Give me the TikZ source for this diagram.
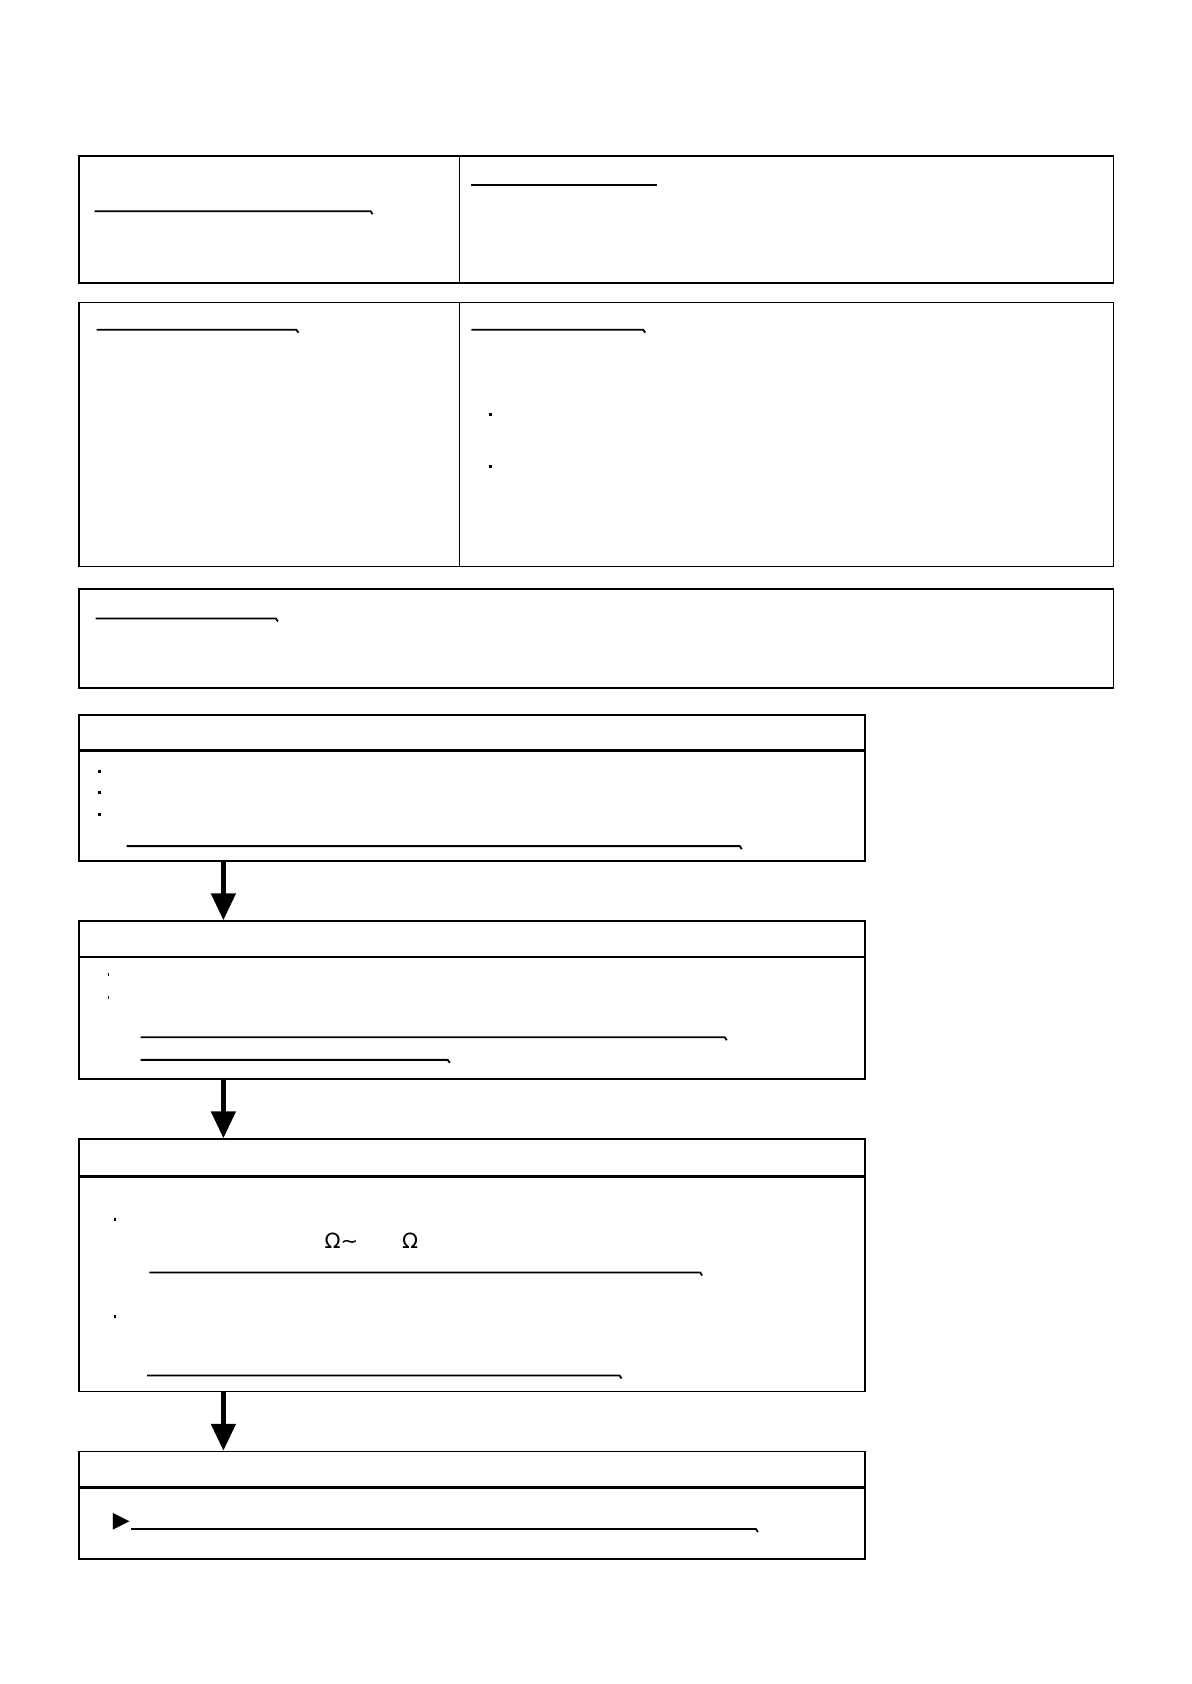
\documentclass[tikz,border=0pt]{standalone}
\usepackage{fontspec}
\setmainfont{DejaVu Sans}
\usetikzlibrary{positioning,arrows.meta}

\begin{document}
\begin{tikzpicture}[x=0.49825pt,y=-0.49825pt,
    panel/.style={rectangle, draw, line width=0.8pt, anchor=north west, inner sep=0pt, minimum width=517.1pt},
    stepbox/.style={panel, minimum width=393pt},
    uline/.style={line width=0.9pt},
    dot/.style={rectangle, fill, inner sep=0pt, minimum width=1.5pt, minimum height=1.5pt},
    thindot/.style={dot, minimum width=0.8pt},
    flow/.style={line width=2.5pt, -{Triangle[length=13.5pt,width=12pt]}}]

    \useasboundingbox (0,0) rectangle (1196.2,1690.1);

    % top panels
    \node[panel, minimum height=63.5pt] (a) at (78.7,156) {};
    \node[panel, minimum height=132.1pt] (b) at (78.7,302.8) {};
    \node[panel, minimum height=49.3pt] (c) at (78.7,590.6) {};
    \coordinate (mid) at (461,0);
    \draw[line width=0.8pt] (a.north -| mid) -- (a.south -| mid);
    \draw[line width=0.8pt] (b.north -| mid) -- (b.south -| mid);

    \draw[uline] (95,212) -- (372,212) -- ++(2,3);
    \draw[line width=1.2pt] (473,185.4) -- (659.5,185.4);
    \draw[uline] (97,330.9) -- (297.4,330.9) -- ++(2,3);
    \draw[uline] (473,330.9) -- (645.5,330.9) -- ++(2,3);
    \node[dot] (b1) at (492.5,416) {};
    \node[dot] (b2) at (492.5,467.7) {};
    \draw[uline] (96,620.8) -- (277,620.8) -- ++(2,3);

    % steps
    \node[stepbox, minimum height=73pt] (s1) at (78.7,716.7) {};
    \node[stepbox, minimum height=78.9pt] (s2) at (78.7,923.6) {};
    \node[stepbox, minimum height=126.2pt] (s3) at (78.7,1142.4) {};
    \node[stepbox, minimum height=53.7pt] (s4) at (78.7,1456) {};

    \draw[line width=1.3pt] (s1.west |- 0,753.3) -- (s1.east |- 0,753.3);
    \draw[line width=0.8pt] (s2.west |- 0,960.2) -- (s2.east |- 0,960.2);
    \draw[line width=1.3pt] (s3.west |- 0,1181) -- (s3.east |- 0,1181);
    \draw[line width=1.3pt] (s4.west |- 0,1492.6) -- (s4.east |- 0,1492.6);

    \foreach \y in {773.8,795.3,817}
        \node[dot] at (100.2,\y) {};
    \draw[uline] (127.2,849.2) -- (742.5,849.2) -- ++(2,3);

    \node[thindot] (p1) at (108.8,978.5) {};
    \node[thindot] (p2) at (108.8,1001.2) {};
    \draw[uline] (141.2,1041) -- (727.4,1041) -- ++(2,3);
    \draw[uline] (141.2,1063.7) -- (449.4,1063.7) -- ++(2,3);

    \node[thindot] (q1) at (115.3,1224.3) {};
    \node[thindot] (q2) at (115.3,1321.3) {};
    \node[font=\fontsize{10.5}{12}\selectfont] (ohm1) at (342.7,1244.8) {Ω∼};
    \node[font=\fontsize{10.5}{12}\selectfont] (ohm2) at (411.7,1244.8) {Ω};
    \draw[uline] (149.8,1277.1) -- (702.7,1277.1) -- ++(2,3);
    \draw[uline] (147.6,1380.5) -- (621.8,1380.5) -- ++(2,3);

    \node[font=\fontsize{11}{12}\selectfont, inner sep=0pt] (tri) at (121.8,1527.1) {▶};
    \draw[uline] (131.5,1534.6) -- (758.7,1534.6) -- ++(2,3);

    % arrows
    \coordinate (ax) at (224.2,0);
    \draw[flow] (s1.south -| ax) -- (s2.north -| ax);
    \draw[flow] (s2.south -| ax) -- (s3.north -| ax);
    \draw[flow] (s3.south -| ax) -- (s4.north -| ax);

\end{tikzpicture}
\end{document}
